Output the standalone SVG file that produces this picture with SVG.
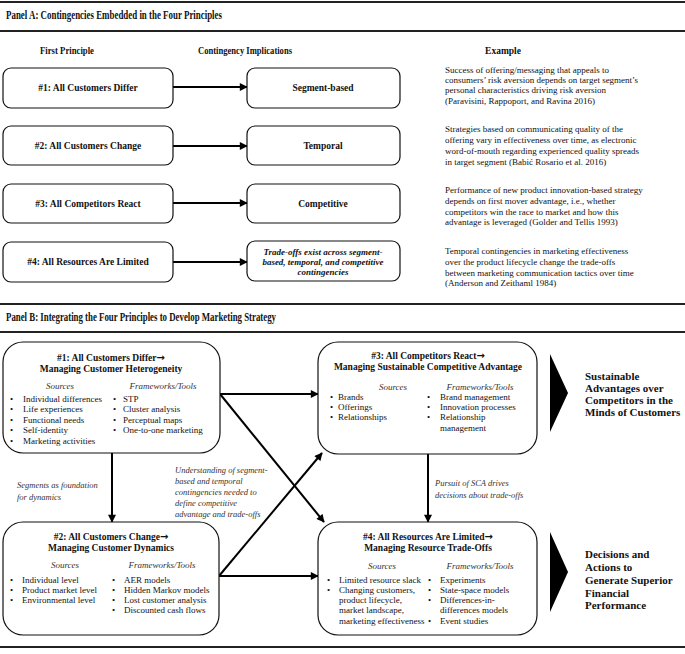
<svg xmlns="http://www.w3.org/2000/svg" width="685" height="654" viewBox="0 0 685 654">
<defs>
<style>
text{font-family:"Liberation Serif","Times New Roman",serif;fill:#111}
.hdr{font-size:12px;font-weight:bold}
.col{font-size:9.5px;font-weight:bold;text-anchor:middle}
.bx{font-size:9.5px;font-weight:bold;text-anchor:middle}
.bxi{font-size:9px;font-weight:bold;font-style:italic;text-anchor:middle}
.ex{font-size:9px}
.t{font-size:9.5px;font-weight:bold;text-anchor:middle}
.ar{font-family:"DejaVu Sans",sans-serif;font-size:10px;font-weight:bold}
.src{font-size:9px;font-style:italic;text-anchor:middle;fill:#333}
.li{font-size:9px}
.side{font-size:11px;font-weight:bold}
.lab{font-size:8.5px;font-style:italic;fill:#333}
.node{fill:#fff;stroke:#111;stroke-width:1.2}
.rule{stroke:#222;stroke-width:2}
.conn{stroke:#000;stroke-width:2;fill:none;marker-end:url(#ah)}
</style>
<marker id="ah" viewBox="0 0 10 10" refX="9" refY="5" markerWidth="4.5" markerHeight="4" orient="auto" markerUnits="strokeWidth">
<path d="M0,0 L10,5 L0,10 z" fill="#000"/>
</marker>
</defs>
<rect width="685" height="654" fill="#fff"/>

<g id="panelA-header">
<line class="rule" x1="0" y1="2" x2="685" y2="2"/>
<line class="rule" x1="0" y1="31" x2="685" y2="31"/>
<text class="hdr" x="6" y="19" textLength="216" lengthAdjust="spacingAndGlyphs">Panel A: Contingencies Embedded in the Four Principles</text>
<text class="col" x="67" y="54" textLength="54" lengthAdjust="spacingAndGlyphs">First Principle</text>
<text class="col" x="245" y="54" textLength="94" lengthAdjust="spacingAndGlyphs">Contingency Implications</text>
<text class="col" x="503" y="54">Example</text>
</g>

<g id="connectors-A">
<line class="conn" x1="173" y1="87" x2="247" y2="87"/>
<line class="conn" x1="173" y1="146" x2="247" y2="146"/>
<line class="conn" x1="173" y1="203" x2="247" y2="203"/>
<line class="conn" x1="173" y1="262" x2="247" y2="262"/>
</g>

<g id="a1"><rect class="node" x="3" y="68" width="170" height="40" rx="8"/><text class="bx" x="88" y="91">#1: All Customers Differ</text></g>
<g id="a2"><rect class="node" x="3" y="126" width="170" height="39" rx="8"/><text class="bx" x="88" y="149">#2: All Customers Change</text></g>
<g id="a3"><rect class="node" x="3" y="184" width="170" height="39" rx="8"/><text class="bx" x="88" y="207">#3: All Competitors React</text></g>
<g id="a4"><rect class="node" x="3" y="242" width="170" height="40" rx="8"/><text class="bx" x="88" y="265">#4: All Resources Are Limited</text></g>

<g id="b1"><rect class="node" x="247" y="68" width="153" height="40" rx="8"/><text class="bx" x="323" y="91">Segment-based</text></g>
<g id="b2"><rect class="node" x="247" y="126" width="153" height="39" rx="8"/><text class="bx" x="323" y="149">Temporal</text></g>
<g id="b3"><rect class="node" x="247" y="184" width="153" height="39" rx="8"/><text class="bx" x="323" y="207">Competitive</text></g>
<g id="b4"><rect class="node" x="247" y="241" width="153" height="40" rx="8"/>
<text class="bxi" x="323" y="255">Trade-offs exist across segment-</text>
<text class="bxi" x="323" y="265">based, temporal, and competitive</text>
<text class="bxi" x="323" y="275">contingencies</text></g>

<g id="examples">
<text class="ex" x="445" y="73">Success of offering/messaging that appeals to</text>
<text class="ex" x="445" y="83">consumers’ risk aversion depends on target segment’s</text>
<text class="ex" x="445" y="93">personal characteristics driving risk aversion</text>
<text class="ex" x="445" y="104">(Paravisini, Rappoport, and Ravina 2016)</text>
<text class="ex" x="445" y="132">Strategies  based on communicating quality of the</text>
<text class="ex" x="445" y="143">offering vary in effectiveness over time, as electronic</text>
<text class="ex" x="445" y="154">word-of-mouth regarding experienced quality spreads</text>
<text class="ex" x="445" y="165">in target  segment (Babić Rosario et al. 2016)</text>
<text class="ex" x="445" y="193">Performance of new product innovation-based strategy</text>
<text class="ex" x="445" y="204">depends on first mover advantage, i.e., whether</text>
<text class="ex" x="445" y="215">competitors win the race to market and how this</text>
<text class="ex" x="445" y="225">advantage is leveraged (Golder and Tellis 1993)</text>
<text class="ex" x="445" y="254">Temporal contingencies in marketing effectiveness</text>
<text class="ex" x="445" y="265">over the product lifecycle change the trade-offs</text>
<text class="ex" x="445" y="276">between marketing communication tactics over time</text>
<text class="ex" x="445" y="286">(Anderson and Zeithaml 1984)</text>
</g>

<g id="panelB-header">
<line class="rule" x1="0" y1="304" x2="685" y2="304"/>
<line class="rule" x1="0" y1="332" x2="685" y2="332"/>
<text class="hdr" x="6" y="321" textLength="270" lengthAdjust="spacingAndGlyphs">Panel B: Integrating the Four Principles to Develop Marketing Strategy</text>
<line class="rule" x1="0" y1="647" x2="685" y2="647"/>
</g>

<g id="connectors-B">
<line class="conn" x1="220" y1="394" x2="318" y2="394"/>
<line class="conn" x1="220" y1="394" x2="324" y2="522"/>
<line class="conn" x1="219" y1="576" x2="322" y2="453"/>
<line class="conn" x1="219" y1="576" x2="318" y2="576"/>
<line class="conn" x1="112" y1="453" x2="112" y2="522"/>
<line class="conn" x1="428" y1="454" x2="428" y2="522"/>
<text class="lab" x="17" y="488">Segments as foundation</text>
<text class="lab" x="17" y="500">for dynamics</text>
<text class="lab" x="175" y="473">Understanding of segment-</text>
<text class="lab" x="175" y="484">based and temporal</text>
<text class="lab" x="175" y="495">contingencies needed to</text>
<text class="lab" x="175" y="506">define competitive</text>
<text class="lab" x="175" y="517">advantage and trade-offs</text>
<text class="lab" x="435" y="486">Pursuit of SCA drives</text>
<text class="lab" x="435" y="498">decisions about trade-offs</text>
</g>

<g id="p1">
<rect class="node" x="3" y="342" width="217" height="111" rx="20"/>
<text class="t" x="111" y="361">#1: All Customers Differ<tspan class="ar">→</tspan></text>
<text class="t" x="111" y="372">Managing Customer Heterogeneity</text>
<text class="src" x="60" y="389">Sources</text>
<text class="src" x="163" y="389">Frameworks/Tools</text>
<text class="li" x="10" y="402">•</text><text class="li" x="23" y="402">Individual differences</text>
<text class="li" x="10" y="412">•</text><text class="li" x="23" y="412">Life experiences</text>
<text class="li" x="10" y="423">•</text><text class="li" x="23" y="423">Functional needs</text>
<text class="li" x="10" y="433">•</text><text class="li" x="23" y="433">Self-identity</text>
<text class="li" x="10" y="444">•</text><text class="li" x="23" y="444">Marketing activities</text>
<text class="li" x="113" y="402">•</text><text class="li" x="123" y="402">STP</text>
<text class="li" x="113" y="412">•</text><text class="li" x="123" y="412">Cluster analysis</text>
<text class="li" x="113" y="423">•</text><text class="li" x="123" y="423">Perceptual maps</text>
<text class="li" x="113" y="433">•</text><text class="li" x="123" y="433">One-to-one marketing</text>
</g>

<g id="p3">
<rect class="node" x="318" y="342" width="219" height="112" rx="20"/>
<text class="t" x="428" y="359">#3: All Competitors React<tspan class="ar">→</tspan></text>
<text class="t" x="428" y="370">Managing Sustainable Competitive Advantage</text>
<text class="src" x="393" y="390">Sources</text>
<text class="src" x="480" y="390">Frameworks/Tools</text>
<text class="li" x="330" y="400">•</text><text class="li" x="338" y="400">Brands</text>
<text class="li" x="330" y="410">•</text><text class="li" x="338" y="410">Offerings</text>
<text class="li" x="330" y="420">•</text><text class="li" x="338" y="420">Relationships</text>
<text class="li" x="427" y="400">•</text><text class="li" x="440" y="400">Brand management</text>
<text class="li" x="427" y="410">•</text><text class="li" x="440" y="410">Innovation processes</text>
<text class="li" x="427" y="420">•</text><text class="li" x="440" y="420">Relationship</text>
<text class="li" x="440" y="431">management</text>
</g>

<g id="p2">
<rect class="node" x="3" y="522" width="216" height="113" rx="20"/>
<text class="t" x="111" y="540">#2: All Customers Change<tspan class="ar">→</tspan></text>
<text class="t" x="111" y="551">Managing Customer Dynamics</text>
<text class="src" x="65" y="568">Sources</text>
<text class="src" x="162" y="568">Frameworks/Tools</text>
<text class="li" x="10" y="583">•</text><text class="li" x="22" y="583">Individual level</text>
<text class="li" x="10" y="593">•</text><text class="li" x="22" y="593">Product market level</text>
<text class="li" x="10" y="603">•</text><text class="li" x="22" y="603">Environmental level</text>
<text class="li" x="112" y="583">•</text><text class="li" x="124" y="583">AER models</text>
<text class="li" x="112" y="593">•</text><text class="li" x="124" y="593">Hidden Markov models</text>
<text class="li" x="112" y="603">•</text><text class="li" x="124" y="603">Lost customer analysis</text>
<text class="li" x="112" y="613">•</text><text class="li" x="124" y="613">Discounted cash flows</text>
</g>

<g id="p4">
<rect class="node" x="318" y="522" width="219" height="113" rx="20"/>
<text class="t" x="428" y="540">#4: All Resources Are Limited<tspan class="ar">→</tspan></text>
<text class="t" x="428" y="551">Managing Resource Trade-Offs</text>
<text class="src" x="382" y="569">Sources</text>
<text class="src" x="480" y="569">Frameworks/Tools</text>
<text class="li" x="327" y="583">•</text><text class="li" x="339" y="583">Limited resource slack</text>
<text class="li" x="327" y="593">•</text><text class="li" x="339" y="593">Changing customers,</text>
<text class="li" x="339" y="603">product lifecycle,</text>
<text class="li" x="339" y="613">market landscape,</text>
<text class="li" x="339" y="624">marketing effectiveness</text>
<text class="li" x="428" y="583">•</text><text class="li" x="440" y="583">Experiments</text>
<text class="li" x="428" y="593">•</text><text class="li" x="440" y="593">State-space models</text>
<text class="li" x="428" y="603">•</text><text class="li" x="440" y="603">Differences-in-</text>
<text class="li" x="440" y="613">differences models</text>
<text class="li" x="428" y="624">•</text><text class="li" x="440" y="624">Event studies</text>
</g>

<g id="out1">
<polygon points="550,354 568,393 550,432" fill="#000"/>
<text class="side" x="585" y="380">Sustainable</text>
<text class="side" x="585" y="392">Advantages over</text>
<text class="side" x="585" y="404">Competitors in the</text>
<text class="side" x="585" y="416">Minds of Customers</text>
</g>

<g id="out2">
<polygon points="550,532 568,572 550,612" fill="#000"/>
<text class="side" x="585" y="558">Decisions and</text>
<text class="side" x="585" y="571">Actions to</text>
<text class="side" x="585" y="584">Generate Superior</text>
<text class="side" x="585" y="597">Financial</text>
<text class="side" x="585" y="609">Performance</text>
</g>
</svg>
